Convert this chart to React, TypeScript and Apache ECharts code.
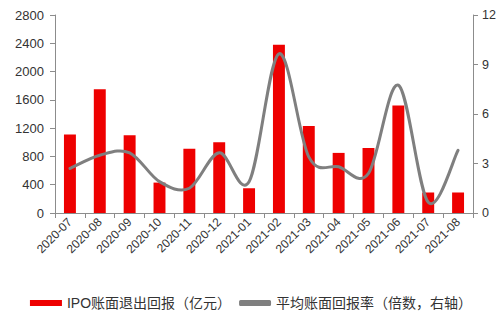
import React, { useEffect, useRef } from "react";
import * as echarts from "echarts";

const categories = [
  "2020-07", "2020-08", "2020-09", "2020-10", "2020-11", "2020-12", "2021-01",
  "2021-02", "2021-03", "2021-04", "2021-05", "2021-06", "2021-07", "2021-08",
];
const ipoReturns = [1110, 1750, 1100, 430, 910, 1000, 350, 2380, 1230, 850, 920, 1520, 290, 290];
const avgMultiple = [2.7, 3.5, 3.65, 1.9, 1.5, 3.65, 1.9, 9.65, 3.4, 2.8, 2.4, 7.75, 0.65, 3.8];
const leftTicks = [0, 400, 800, 1200, 1600, 2000, 2400, 2800];
const rightTicks = [0, 3, 6, 9, 12];
const barName = "IPO账面退出回报（亿元）";
const lineName = "平均账面回报率（倍数，右轴）";

const FONT = "'Liberation Sans', 'Noto Sans CJK SC', sans-serif";
const GRAY = "#7f7f7f";

export default function App() {
  const ref = useRef<HTMLDivElement>(null);
  useEffect(() => {
    if (!ref.current) return;
    const chart = echarts.init(ref.current, null, { renderer: "svg" });
    const axisLine = { show: true, lineStyle: { color: "#8c8c8c", width: 1 } };

    const renderSmooth = (params: any, api: any) => {
      if (params.dataIndex !== 0) return null;
      const pts = avgMultiple.map((v, i) => api.coord([i, v]));
      const n = pts.length;
      let d = `M${pts[0][0]},${pts[0][1]}`;
      for (let i = 0; i < n - 1; i++) {
        const p0 = pts[Math.max(0, i - 1)];
        const p1 = pts[i];
        const p2 = pts[i + 1];
        const p3 = pts[Math.min(n - 1, i + 2)];
        const c1x = p1[0] + (p2[0] - p0[0]) / 6;
        const c1y = p1[1] + (p2[1] - p0[1]) / 6;
        const c2x = p2[0] - (p3[0] - p1[0]) / 6;
        const c2y = p2[1] - (p3[1] - p1[1]) / 6;
        d += ` C${c1x},${c1y} ${c2x},${c2y} ${p2[0]},${p2[1]}`;
      }
      return {
        type: "path",
        shape: { pathData: d },
        style: { stroke: GRAY, lineWidth: 3, fill: "none", lineJoin: "round", lineCap: "round" },
        silent: true,
      };
    };

    chart.setOption({
      animation: false,
      backgroundColor: "#ffffff",
      textStyle: { fontFamily: FONT },
      grid: { left: 55, right: 29, top: 15, bottom: 103, containLabel: false },
      legend: {
        top: 291,
        left: "center",
        itemWidth: 32,
        itemHeight: 6,
        itemGap: 8,
        textStyle: { fontSize: 14, color: "#333", fontFamily: FONT },
        data: [
          { name: barName, icon: "rect", itemStyle: { color: "#ee0000" } },
          { name: lineName, icon: "roundRect", itemStyle: { color: GRAY } },
        ],
      },
      xAxis: {
        type: "category",
        data: categories,
        boundaryGap: true,
        axisLine,
        axisTick: { show: true, alignWithLabel: false, length: 5, lineStyle: { color: "#8c8c8c" } },
        axisLabel: { rotate: 45, fontSize: 12, color: "#333", margin: 7, interval: 0 },
        splitLine: { show: false },
      },
      yAxis: [
        {
          type: "value",
          min: leftTicks[0],
          max: leftTicks[leftTicks.length - 1],
          interval: 400,
          axisLine,
          axisTick: { show: true, length: 5, lineStyle: { color: "#8c8c8c" } },
          axisLabel: { fontSize: 13, color: "#333", margin: 11, formatter: (v: number) => String(v) },
          splitLine: { show: false },
        },
        {
          type: "value",
          min: rightTicks[0],
          max: rightTicks[rightTicks.length - 1],
          interval: 3,
          position: "right",
          axisLine,
          axisTick: { show: true, length: 5, lineStyle: { color: "#8c8c8c" } },
          axisLabel: { fontSize: 12.5, color: "#333", margin: 9, formatter: (v: number) => String(v) },
          splitLine: { show: false },
        },
      ],
      series: [
        {
          name: barName,
          type: "bar",
          data: ipoReturns,
          barWidth: "40%",
          itemStyle: { color: "#ee0000" },
          yAxisIndex: 0,
        },
        {
          name: lineName,
          type: "custom",
          coordinateSystem: "cartesian2d",
          yAxisIndex: 1,
          data: avgMultiple.map((v, i) => [i, v]),
          encode: { x: 0, y: 1 },
          renderItem: renderSmooth,
          itemStyle: { color: GRAY },
          z: 3,
        },
      ],
    });
    return () => chart.dispose();
  }, []);
  return (
    <div
      ref={ref}
      style={{ position: "fixed", left: 0, top: 0, width: 502, height: 316 }}
    />
  );
}
